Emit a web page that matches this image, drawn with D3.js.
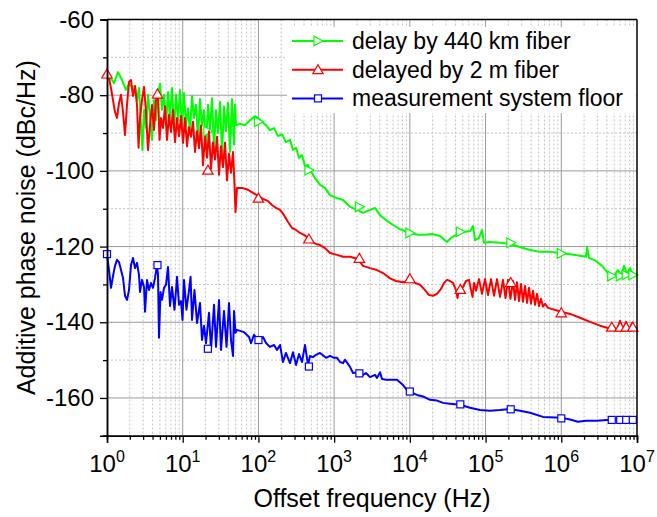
<!doctype html>
<html lang="en">
<head>
<meta charset="utf-8">
<title>Additive phase noise</title>
<script src="https://d3js.org/d3.v7.min.js"></script>
<style>
  body { margin: 0; background: #fff; }
  svg text { font-family: "Liberation Sans", Arial, sans-serif; fill: #000; }
</style>
</head>
<body>
<script>
// each series: [offset frequency (Hz), additive phase noise (dBc/Hz)]
const green = [
  [1,-75.5],[1.095,-75.2],[1.237,-76.8],[1.397,-73.9],[1.578,-76.0],[1.782,-78.6],[1.952,-77.0],[2.139,-77.8],
  [2.343,-77.6],[2.49,-81.3],[2.646,-78.1],[2.812,-87.9],[2.94,-94.5],[3.082,-83.9],[3.275,-88.7],[3.48,-79.9],
  [3.698,-85.2],[3.93,-91.8],[4.177,-81.3],[4.438,-86.6],[4.717,-79.9],[5.012,-77.0],[5.327,-83.9],[5.661,-79.9],
  [6.016,-87.9],[6.394,-79.2],[6.795,-86.0],[7.222,-78.1],[7.674,-89.2],[8.156,-79.9],[8.668,-86.6],[9.212,-78.6],
  [9.786,-88.7],[10.4,-79.4],[11.05,-87.9],[11.75,-83.5],[12.48,-89.7],[13.27,-80.2],[14.1,-86.0],[14.98,-82.5],
  [15.92,-92.0],[16.92,-81.0],[17.98,-88.0],[19.11,-84.0],[20.3,-93.5],[21.58,-82.5],[22.93,-89.0],[24.37,-80.8],
  [25.9,-94.5],[27.53,-84.0],[29.26,-90.0],[31.09,-81.8],[33.04,-95.5],[35.11,-83.0],[37.31,-89.5],[39.65,-82.0],
  [42.14,-95.0],[44.78,-81.0],[47.59,-93.0],[49.06,-82.5],[50.57,-87.9],[57.1,-87.6],[66.5,-87.9],[77.4,-86.6],
  [90.1,-85.5],[98.7,-86.0],[111.5,-87.1],[126,-87.9],[142,-89.2],[161,-88.7],[181,-90.8],[205,-90.3],
  [231,-92.4],[261,-91.8],[286,-94.5],[314,-93.9],[344,-96.6],[376,-95.8],[412,-98.7],[452,-98.4],
  [480,-99.8],[559,-101.9],[651,-103.7],[758,-104.5],[882,-106.4],[1091,-107.2],[1310,-107.7],[1620,-109.5],
  [2005,-110.3],[2406,-111.1],[2977,-110.3],[3467,-109.8],[4036,-111.7],[4843,-113.0],[5992,-114.3],[7413,-115.4],
  [10050,-116.4],[12820,-116.9],[15860,-116.9],[19620,-116.7],[25020,-117.2],[30960,-118.8],[36040,-117.5],
  [43260,-116.7],[53520,-116.1],[62310,-115.9],[68280,-114.6],[72560,-118.3],[81950,-117.7],[89780,-115.6],
  [95390,-119.0],[1.145e5,-118.8],[1.552e5,-119.0],[2.1e5,-119.3],[2.85e5,-120.1],[3.87e5,-120.9],[5.24e5,-121.4],
  [7.1e5,-121.4],[1.0e6,-121.7],[1.52e6,-122.2],[2.12e6,-122.7],[2.19e6,-120.1],[2.32e6,-123.0],[2.88e6,-123.8],
  [3.45e6,-125.1],[4.14e6,-127.0],[4.97e6,-127.8],[5.62e6,-126.2],[6.15e6,-127.8],[6.74e6,-125.1],[7.38e6,-127.2],
  [8.09e6,-125.7],[8.86e6,-127.5],[1e7,-127.2]
];
const red = [
  [1,-74.4],[1.063,-75.5],[1.129,-78.1],[1.2,-81.3],[1.275,-84.4],[1.356,-86.0],[1.44,-82.1],[1.531,-79.9],
  [1.627,-84.4],[1.729,-90.5],[1.837,-82.6],[1.952,-76.5],[2.075,-76.0],[2.205,-80.2],[2.343,-77.6],[2.49,-82.6],
  [2.61,-93.9],[2.729,-86.0],[2.9,-81.3],[3.082,-77.8],[3.275,-84.4],[3.48,-94.5],[3.698,-87.9],[3.93,-82.6],
  [4.177,-89.2],[4.438,-81.3],[4.717,-79.7],[4.94,-91.8],[5.167,-86.0],[5.492,-88.7],[5.836,-82.9],[6.202,-91.8],
  [6.591,-85.2],[7.005,-89.7],[7.444,-83.9],[7.912,-92.4],[8.408,-86.0],[8.936,-90.8],[9.493,-85.5],[10.09,-92.6],
  [10.72,-86.0],[11.39,-93.5],[12.11,-88.5],[12.87,-91.0],[13.68,-87.0],[14.53,-95.0],[15.45,-89.5],[16.42,-94.0],
  [17.45,-88.0],[18.54,-98.5],[19.7,-91.0],[20.93,-96.5],[22.25,-89.5],[23.64,-99.5],[25.12,-92.5],[26.7,-97.0],
  [28.38,-91.0],[30.16,-101.0],[32.05,-93.5],[34.06,-99.0],[36.2,-92.5],[38.46,-102.5],[40.88,-95.5],[43.44,-100.5],
  [46.16,-95.0],[48.3,-103.5],[49.8,-110.9],[52.13,-104.5],[60.7,-104.5],[72.9,-105.0],[84.8,-105.8],[98.7,-106.6],
  [115,-107.4],[134,-108.0],[151,-109.0],[171,-109.8],[193,-110.3],[218,-111.7],[246,-113.5],[278,-115.1],
  [314,-115.6],[354,-116.4],[400,-116.9],[452,-117.7],[510,-118.8],[576,-119.3],[651,-119.6],[758,-120.4],
  [882,-121.7],[1091,-122.2],[1310,-122.7],[1620,-122.7],[2067,-123.3],[2406,-125.1],[2977,-125.7],[3684,-126.2],
  [4421,-127.0],[5470,-128.4],[6566,-129.1],[8122,-129.4],[9748,-129.1],[11700,-129.6],[13620,-130.1],[15860,-131.5],
  [17910,-132.8],[20230,-133.0],[22840,-132.5],[25790,-131.2],[28260,-129.6],[30960,-128.8],[33910,-129.1],
  [37160,-129.6],[40710,-131.5],[42600,-133.6],[44600,-131.2],[50360,-130.7],[55170,-129.1],[60440,-128.8],
  [64240,-131.5],[67240,-133.3],[70390,-129.6],[74800,-131.7],[81950,-128.6],[89780,-132.5],[98330,-128.6],
  [1.077e5,-132.8],[1.18e5,-128.6],[1.293e5,-133.0],[1.417e5,-128.6],[1.552e5,-133.3],[1.70e5,-128.8],
  [1.834e5,-133.6],[1.98e5,-128.8],[2.13e5,-133.8],[2.305e5,-129.1],[2.449e5,-134.1],[2.60e5,-129.4],
  [2.765e5,-134.4],[2.94e5,-129.9],[3.12e5,-134.6],[3.32e5,-130.4],[3.53e5,-134.9],[3.75e5,-130.9],
  [3.98e5,-135.1],[4.23e5,-131.7],[4.50e5,-135.4],[4.78e5,-132.5],[5.08e5,-135.7],[5.40e5,-133.8],
  [5.74e5,-135.9],[6.10e5,-135.1],[6.68e5,-136.2],[1.0e6,-137.2],[1.305e6,-137.8],[1.77e6,-138.8],[2.40e6,-139.9],
  [3.25e6,-140.9],[4.14e6,-141.5],[4.83e6,-141.2],[5.45e6,-142.0],[5.97e6,-139.6],[6.54e6,-142.0],[7.16e6,-139.9],
  [7.85e6,-142.0],[8.60e6,-140.2],[9.42e6,-141.8],[1e7,-141.5]
];
const blue = [
  [1,-122.0],[1.063,-126.2],[1.129,-130.9],[1.2,-127.8],[1.275,-125.1],[1.356,-123.5],[1.44,-124.1],[1.531,-126.2],
  [1.627,-128.3],[1.729,-133.0],[1.837,-134.1],[1.952,-131.5],[2.075,-124.9],[2.205,-123.0],[2.343,-125.7],
  [2.49,-124.3],[2.646,-127.5],[2.729,-132.0],[2.9,-128.8],[3.082,-130.7],[3.18,-137.2],[3.376,-128.8],[3.587,-131.5],
  [3.812,-129.6],[4.052,-130.9],[4.305,-128.3],[4.576,-124.9],[4.717,-127.5],[4.862,-144.1],[5.09,-132.0],
  [5.327,-134.1],[5.661,-130.9],[6.016,-130.1],[6.394,-125.4],[6.795,-135.7],[7.222,-130.7],[7.79,-136.7],
  [8.408,-128.0],[8.936,-135.4],[9.493,-134.4],[9.94,-139.4],[10.4,-128.8],[11.2,-136.7],[12.11,-131.5],
  [12.7,-128.0],[13.27,-139.4],[14.3,-131.5],[15.45,-140.2],[16.92,-134.9],[17.98,-144.7],[19.11,-140.9],
  [20.3,-145.5],[22.25,-137.5],[23.64,-147.3],[25.9,-135.4],[27.53,-146.5],[30.16,-134.1],[32.05,-147.3],
  [35.11,-137.0],[37.9,-146.5],[40.88,-134.9],[43.44,-144.7],[46.16,-148.9],[47.59,-137.0],[49.8,-142.8],
  [52.13,-142.0],[64.5,-142.6],[75.1,-143.9],[79.8,-145.5],[87.4,-143.3],[98.7,-144.7],[115,-143.9],[126,-145.5],
  [142,-146.5],[161,-146.0],[176,-147.3],[193,-146.0],[211,-150.5],[231,-148.1],[261,-150.8],[286,-147.9],
  [314,-151.3],[344,-148.4],[376,-150.5],[412,-146.0],[452,-151.3],[480,-148.9],[526,-149.2],[576,-148.6],
  [651,-148.1],[781,-149.4],[882,-148.9],[996,-149.4],[1091,-149.4],[1195,-150.5],[1310,-150.8],[1392,-149.9],
  [1620,-151.8],[1775,-153.4],[2067,-153.2],[2406,-153.9],[2636,-153.4],[2977,-154.5],[3467,-153.9],[3684,-154.7],
  [4036,-153.2],[4289,-155.0],[4843,-155.2],[5470,-155.2],[6768,-155.2],[8122,-156.6],[9174,-157.9],[10050,-158.4],
  [12430,-159.2],[15380,-159.7],[18460,-160.5],[22840,-160.7],[27420,-161.3],[33910,-161.5],[45980,-161.8],
  [62310,-162.6],[84480,-163.2],[1.145e5,-163.4],[1.552e5,-163.2],[2.1e5,-162.9],[2.85e5,-163.4],[3.87e5,-163.9],
  [5.74e5,-165.0],[1.0e6,-165.2],[1.305e6,-165.7],[1.66e6,-166.3],[2.12e6,-166.0],[2.97e6,-166.0],[4.83e6,-165.7],
  [1e7,-165.4]
];

// symbol positions along each curve
const greenMarks = [[21.5,-89.5],[100,-87.0],[464,-99.8],[2154,-109.5],[1e4,-116.4],[4.64e4,-116.1],[2.15e5,-119.0],
  [1e6,-121.8],[4.64e6,-127.8],[6.0e6,-127.8],[7.2e6,-127.5],[8.8e6,-127.5]];
const redMarks = [[1,-74.4],[4.64,-79.7],[21.5,-99.8],[100,-107.2],[464,-118.0],[2154,-123.1],[1e4,-128.5],
  [4.64e4,-131.3],[2.15e5,-129.5],[1e6,-137.5],[4.64e6,-141.3],[6.0e6,-141.3],[7.2e6,-141.3],[8.8e6,-141.3]];
const blueMarks = [[1,-122.0],[4.64,-124.9],[21.5,-147.0],[100,-144.7],[464,-151.7],[2154,-153.5],[1e4,-158.3],
  [4.64e4,-161.7],[2.15e5,-163.0],[1e6,-165.4],[4.64e6,-165.8],[6.0e6,-165.8],[7.2e6,-165.8],[8.8e6,-165.8]];

const seriesNames = ["delay by 440 km fiber", "delayed by 2 m fiber", "measurement system floor"];
const seriesColors = ["#00ff00", "#ff0000", "#0000ff"];
const seriesShapes = ["right", "up", "square"];

const xExponents = [0, 1, 2, 3, 4, 5, 6, 7];
const yTicks = [-160, -140, -120, -100, -80, -60];
const yMinor = [-170, -150, -130, -110, -90, -70];

const width = 657, height = 517;
const plotL = 107, plotR = 637, plotT = 19.5, plotB = 435.8;

const svg = d3.select("body").append("svg")
    .attr("width", width)
    .attr("height", height);

const x = d3.scaleLog().domain([1, 1e7]).range([plotL, plotR]);
const y = d3.scaleLinear().domain([-170, -60]).range([plotB, plotT]);

const decades = xExponents.map(e => Math.pow(10, e));
const xMinor = [];
decades.slice(0, -1).forEach(d => { for (let k = 2; k <= 9; k++) xMinor.push(d * k); });

// grid
const grid = svg.append("g");
grid.selectAll(".vmin").data(xMinor).enter().append("line")
    .attr("x1", d => x(d)).attr("x2", d => x(d))
    .attr("y1", plotT).attr("y2", plotB)
    .attr("stroke", "#c4c4c4").attr("stroke-dasharray", "2,2");
grid.selectAll(".hmin").data(yMinor.slice(1)).enter().append("line")
    .attr("x1", plotL).attr("x2", plotR)
    .attr("y1", d => y(d)).attr("y2", d => y(d))
    .attr("stroke", "#c4c4c4").attr("stroke-dasharray", "2,2");
grid.selectAll(".vmaj").data(decades.slice(1, -1)).enter().append("line")
    .attr("x1", d => x(d)).attr("x2", d => x(d))
    .attr("y1", plotT).attr("y2", plotB)
    .attr("stroke", "#9a9a9a");
grid.selectAll(".hmaj").data(yTicks.slice(0, -1)).enter().append("line")
    .attr("x1", plotL).attr("x2", plotR)
    .attr("y1", d => y(d)).attr("y2", d => y(d))
    .attr("stroke", "#9a9a9a");

// legend box hides the grid behind it
svg.append("rect")
    .attr("x", 287).attr("y", 27)
    .attr("width", plotR - 287 - 1).attr("height", 86)
    .attr("fill", "#fff");

function symbol(g, shape, color) {
    if (shape === "square") {
        g.append("rect").attr("x", -3.5).attr("y", -3.5).attr("width", 7).attr("height", 7)
            .attr("fill", "#fff").attr("stroke", color).attr("stroke-width", 1.2);
    } else {
        const pts = shape === "right" ? "-4,-4.8 5,0 -4,4.8" : "0,-5 5.2,4 -5.2,4";
        g.append("polygon").attr("points", pts)
            .attr("fill", "#fff").attr("stroke", color).attr("stroke-width", 1.2);
    }
}

const line = d3.line().x(d => x(d[0])).y(d => y(d[1]));
const curves = [green, red, blue];
const marks = [greenMarks, redMarks, blueMarks];

const plot = svg.append("g");
curves.forEach((data, i) => {
    plot.append("path")
        .datum(data)
        .attr("d", line)
        .attr("fill", "none")
        .attr("stroke", seriesColors[i])
        .attr("stroke-width", 2)
        .attr("stroke-linejoin", "round");
    marks[i].forEach(m => {
        const g = plot.append("g").attr("transform", "translate(" + x(m[0]) + "," + y(m[1]) + ")");
        symbol(g, seriesShapes[i], seriesColors[i]);
    });
});

// axes
const xAxis = svg.append("g").attr("transform", "translate(0," + plotB + ")");
xAxis.call(d3.axisBottom(x).tickValues(decades).tickSize(7).tickFormat(""));
xAxis.append("g").call(d3.axisBottom(x).tickValues(xMinor).tickSize(4).tickFormat(""));
xAxis.selectAll(".domain").attr("stroke-width", 1.5);
xAxis.selectAll(".tick line").attr("stroke-width", 1.3);

const yAxis = svg.append("g").attr("transform", "translate(" + plotL + ",0)");
yAxis.call(d3.axisLeft(y).tickValues(yTicks).tickSize(7).tickPadding(6).tickFormat(d => String(d)));
yAxis.append("g").call(d3.axisLeft(y).tickValues(yMinor).tickSize(4).tickFormat(""));
yAxis.selectAll(".domain").attr("stroke-width", 1.5);
yAxis.selectAll(".tick line").attr("stroke-width", 1.3);
yAxis.selectAll("text")
    .attr("font-family", "Liberation Sans, Arial, sans-serif")
    .attr("font-size", 24);

// frame on top and right
svg.append("line").attr("x1", plotL).attr("x2", plotR).attr("y1", plotT).attr("y2", plotT)
    .attr("stroke", "#000").attr("stroke-width", 1.5);
svg.append("line").attr("x1", plotR).attr("x2", plotR).attr("y1", plotT).attr("y2", plotB)
    .attr("stroke", "#000").attr("stroke-width", 1.5);

// decade labels 10^n
const xl = svg.append("g");
xExponents.forEach(e => {
    const t = xl.append("text")
        .attr("x", x(Math.pow(10, e)))
        .attr("y", 472)
        .attr("text-anchor", "middle")
        .attr("font-size", 24);
    t.append("tspan").text("10");
    t.append("tspan").attr("dy", -10).attr("font-size", 16).text(e);
});

// axis titles
svg.append("text")
    .attr("x", (plotL + plotR) / 2).attr("y", 507)
    .attr("text-anchor", "middle")
    .attr("font-size", 25)
    .text("Offset frequency (Hz)");
svg.append("text")
    .attr("transform", "translate(35," + ((plotT + plotB) / 2) + ") rotate(-90)")
    .attr("text-anchor", "middle")
    .attr("font-size", 25)
    .text("Additive phase noise (dBc/Hz)");

// legend entries
const legend = svg.append("g");
seriesNames.forEach((name, i) => {
    const ly = 41 + i * 28.7;
    legend.append("line").attr("x1", 292).attr("x2", 343).attr("y1", ly).attr("y2", ly)
        .attr("stroke", seriesColors[i]).attr("stroke-width", 2);
    const g = legend.append("g").attr("transform", "translate(318," + ly + ")");
    symbol(g, seriesShapes[i], seriesColors[i]);
    legend.append("text")
        .attr("x", 352).attr("y", ly + 8)
        .attr("font-size", 23)
        .text(name);
});
</script>
</body>
</html>
